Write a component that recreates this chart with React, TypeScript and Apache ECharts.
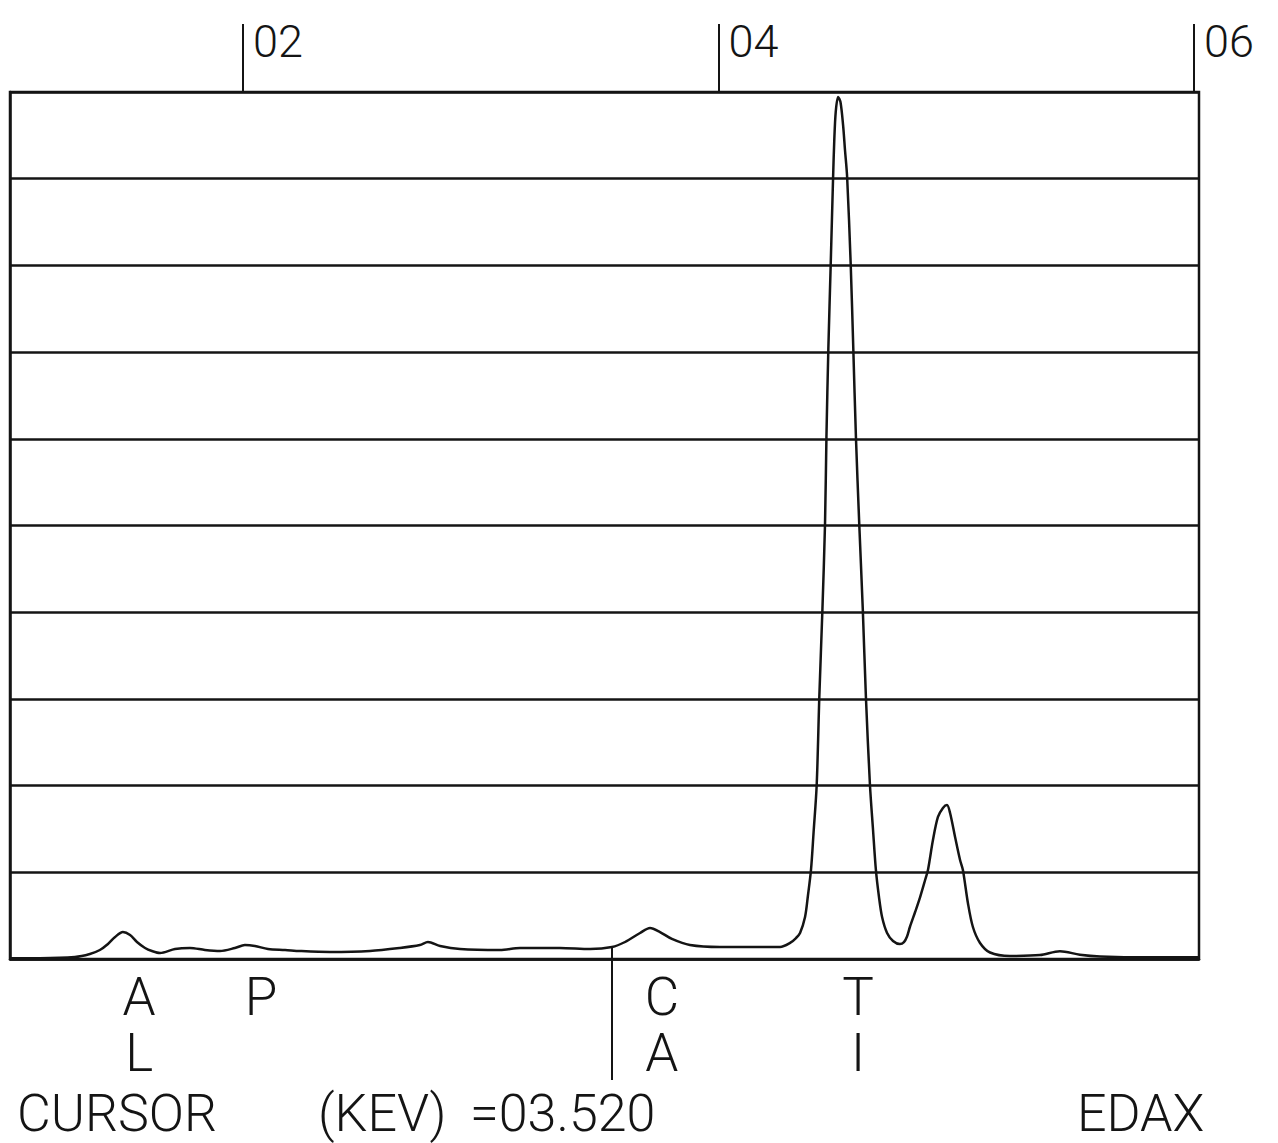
import React, { useEffect, useRef } from "react";
import * as echarts from "echarts";

// Energy axis (keV) and intensity (% of full scale)
const energyKeV = [
  1.02, 1.146, 1.293, 1.356, 1.398, 1.432, 1.462, 1.495, 1.525, 1.554, 1.588, 1.617, 1.651,
  1.714, 1.777, 1.84, 1.903, 1.966, 2.008, 2.05, 2.105, 2.177, 2.24, 2.366, 2.534, 2.66,
  2.744, 2.778, 2.829, 2.913, 3.081, 3.165, 3.333, 3.46, 3.552, 3.607, 3.67, 3.712, 3.754,
  3.804, 3.88, 4.006, 4.175, 4.259, 4.301, 4.326, 4.343, 4.364, 4.376, 4.389, 4.4, 4.413,
  4.424, 4.437, 4.448, 4.454, 4.462, 4.472, 4.482, 4.487, 4.493, 4.503, 4.513, 4.524, 4.532,
  4.541, 4.556, 4.567, 4.578, 4.592, 4.607, 4.62, 4.637, 4.65, 4.662, 4.675, 4.688, 4.709,
  4.734, 4.763, 4.78, 4.793, 4.805, 4.827, 4.848, 4.869, 4.881, 4.902, 4.923, 4.944, 4.961,
  4.974, 4.995, 5.016, 5.028, 5.049, 5.07, 5.1, 5.142, 5.226, 5.352, 5.436, 5.52, 5.605,
  5.815, 6.021,
];
const intensity = [
  0.1, 0.1, 0.23, 0.58, 1.04, 1.73, 2.54, 3.11, 2.77, 1.96, 1.27, 0.92, 0.69,
  1.15, 1.27, 1.04, 0.92, 1.27, 1.61, 1.5, 1.15, 1.04, 0.92, 0.81, 0.92, 1.27,
  1.61, 1.96, 1.5, 1.15, 1.04, 1.27, 1.27, 1.15, 1.38, 1.96, 3.0, 3.58, 3.11,
  2.31, 1.61, 1.38, 1.38, 1.38, 1.85, 2.42, 3.0, 4.84, 7.27, 10.27, 14.65, 20.07,
  30.22, 40.25, 50.17, 60.21, 70.36, 80.16, 90.2, 94.46, 97.69, 99.42, 98.85, 96.19, 93.31,
  90.2, 80.16, 70.36, 60.21, 50.17, 40.25, 30.22, 20.07, 14.88, 10.27, 7.15, 4.84, 3.0,
  2.08, 1.73, 1.95, 2.6, 3.69, 5.42, 7.15, 9.11, 10.27, 13.73, 16.38, 17.42, 17.76,
  16.84, 14.07, 11.42, 10.27, 6.46, 3.69, 1.85, 0.75, 0.35, 0.45, 0.9, 0.5, 0.3,
  0.2, 0.2,
];

const xMin = 1.02;
const xMax = 6.021;
const topTickKeV = [2, 4, 6];
const topTickLabels = ["02", "04", "06"];
const elementLabelKeV = [1.563, 2.076, 3.762, 4.587];
const elementLabels = [["A", "L"], ["P"], ["C", "A"], ["T", "I"]];
const cursorKeV = 3.552;
const cursorParts = ["CURSOR", "(KEV)", "=03.520"];
const brandText = "EDAX";

const INK = "#141414";
const FONT = "Roboto";

function interp(x: number): number {
  for (let i = 0; i < energyKeV.length - 1; i++) {
    if (x >= energyKeV[i] && x <= energyKeV[i + 1]) {
      const t = (x - energyKeV[i]) / (energyKeV[i + 1] - energyKeV[i]);
      return intensity[i] + t * (intensity[i + 1] - intensity[i]);
    }
  }
  return intensity[intensity.length - 1];
}

export default function App() {
  const ref = useRef<HTMLDivElement>(null);

  useEffect(() => {
    document.body.style.margin = "0";
    if (!ref.current) return;
    const chart = echarts.init(ref.current, undefined, { renderer: "svg" });
    const data = energyKeV.map((e, i) => [e, intensity[i]]);

    chart.setOption({
      animation: false,
      backgroundColor: "#ffffff",
      grid: {
        left: 10,
        right: 79,
        top: 92,
        bottom: 184,
        show: true,
        borderColor: INK,
        borderWidth: 2.5,
        backgroundColor: "transparent",
      },
      xAxis: [
        {
          type: "value",
          position: "bottom",
          min: xMin,
          max: xMax,
          axisLine: { show: true, lineStyle: { color: INK, width: 2.5 } },
          axisTick: { show: false },
          axisLabel: { show: false },
          splitLine: { show: false },
        },
        {
          type: "value",
          position: "top",
          min: xMin,
          max: xMax,
          axisLine: { show: false },
          axisTick: {
            show: true,
            customValues: topTickKeV,
            length: 68,
            lineStyle: { color: INK, width: 2 },
          },
          axisLabel: {
            show: true,
            customValues: topTickKeV,
            formatter: (v: number) => topTickLabels[topTickKeV.indexOf(Math.round(v))] ?? "",
            align: "left",
            padding: [0, 0, 0, 10],
            margin: 28,
            fontSize: 45,
            fontFamily: FONT,
            fontWeight: 300,
            color: INK,
          },
          splitLine: { show: false },
        },
      ],
      yAxis: {
        type: "value",
        min: 0,
        max: 100,
        interval: 10,
        axisLine: { show: true, lineStyle: { color: INK, width: 2.5 } },
        axisTick: { show: false },
        axisLabel: { show: false },
        splitLine: { show: true, lineStyle: { color: INK, width: 2.5 } },
      },
      series: [
        {
          type: "line",
          xAxisIndex: 0,
          data,
          showSymbol: false,
          symbol: "none",
          smooth: 0.3,
          lineStyle: { color: INK, width: 2.5 },
          z: 5,
        },
      ],
    });

    const px = (x: number, y: number) =>
      chart.convertToPixel({ seriesIndex: 0 }, [x, y]) as number[];

    const graphics: any[] = [];
    const cTop = px(cursorKeV, interp(cursorKeV));
    graphics.push({
      type: "line",
      shape: { x1: cTop[0], y1: cTop[1], x2: cTop[0], y2: 1080 },
      style: { stroke: INK, lineWidth: 2 },
    });

    const rowY = [997, 1053];
    elementLabelKeV.forEach((k, i) => {
      const p = px(k, 0);
      elementLabels[i].forEach((ch, r) => {
        graphics.push({
          type: "text",
          x: p[0],
          y: rowY[r],
          style: {
            text: ch,
            fill: INK,
            fontSize: 53,
            fontFamily: FONT,
            fontWeight: 300,
            align: "center",
            verticalAlign: "middle",
          },
        });
      });
    });

    const partX = [17, 318, 470];
    cursorParts.forEach((t, i) => {
      graphics.push({
        type: "text",
        x: partX[i],
        y: 1113,
        style: {
          text: t,
          fill: INK,
          fontSize: 52,
          lineHeight: 52,
          fontFamily: FONT,
          fontWeight: 300,
          align: "left",
          verticalAlign: "middle",
        },
      });
    });
    graphics.push({
      type: "text",
      x: 1077,
      y: 1113,
      style: {
        text: brandText,
        fill: INK,
        fontSize: 52,
        lineHeight: 52,
        fontFamily: FONT,
        fontWeight: 300,
        align: "left",
        verticalAlign: "middle",
      },
    });

    chart.setOption({ graphic: graphics });

    return () => chart.dispose();
  }, []);

  return <div ref={ref} style={{ width: 1278, height: 1143, background: "#fff" }} />;
}
